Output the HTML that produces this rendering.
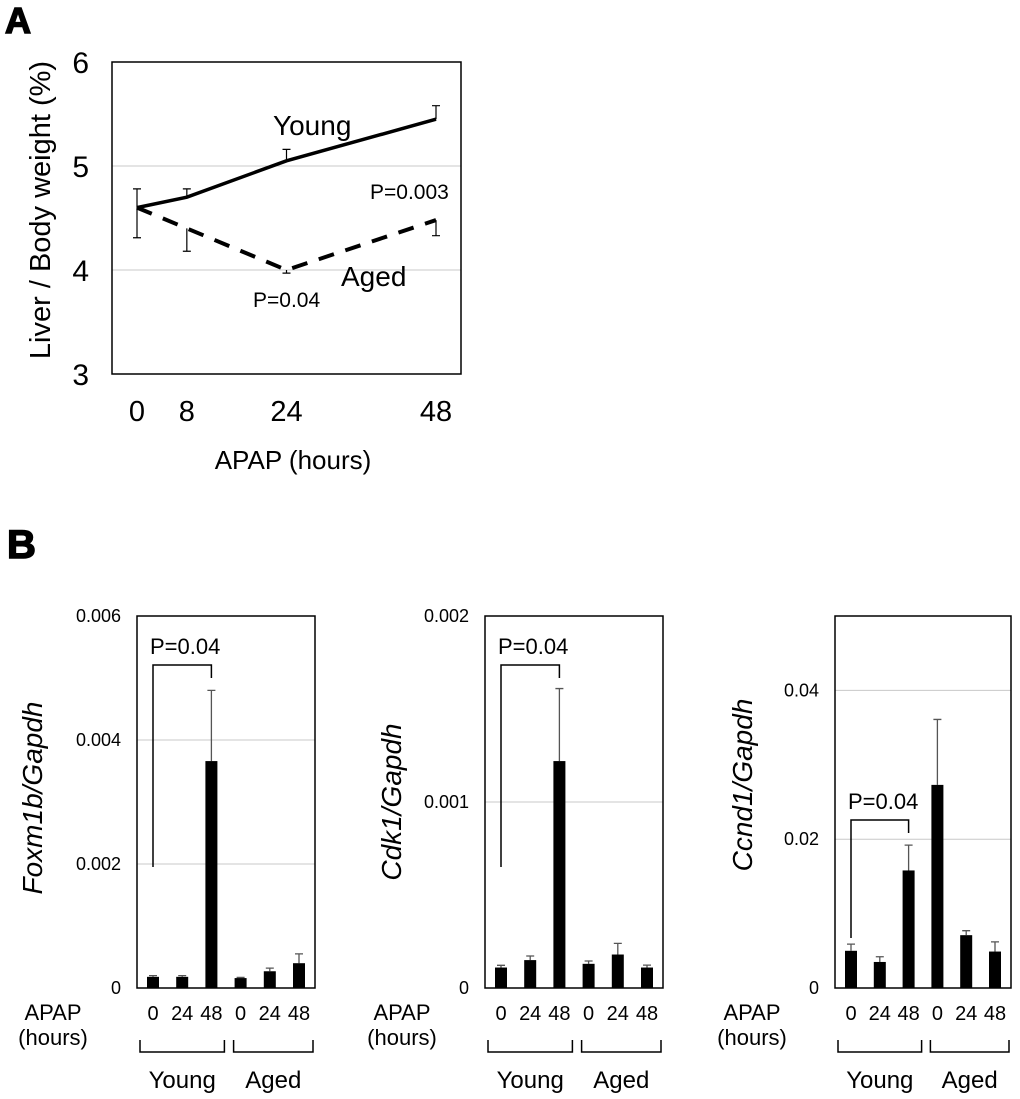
<!DOCTYPE html>
<html><head><meta charset="utf-8">
<style>
html,body{margin:0;padding:0;background:#fff;}
svg{display:block;font-family:"Liberation Sans",Arial,sans-serif;}
</style></head>
<body>
<svg id="fig" width="1020" height="1099" viewBox="0 0 1020 1099" xmlns="http://www.w3.org/2000/svg">
<text x="5" y="33" font-size="36" font-weight="bold" stroke="#000" stroke-width="1.5">A</text>
<text x="7" y="558" font-size="40" font-weight="bold" stroke="#000" stroke-width="1.5">B</text>
<g id="panelA"></g>
<g id="b1"></g>
<g id="b2"></g>
<g id="b3"></g>
</svg>
<script>
// Panel A data
const aHours = [0, 8, 24, 48];
const aYticks = [3, 4, 5, 6];
const youngMean = [4.6, 4.7, 5.05, 5.45];
const youngErr = [0.18, 0.08, 0.11, 0.13];
const agedMean = [4.6, 4.4, 4.0, 4.48];
const agedErr = [0.29, 0.22, 0.03, 0.15];

// Panel B data
const bCats = ['0', '24', '48', '0', '24', '48'];
const foxVals = [0.00018, 0.00018, 0.00366, 0.00016, 0.00027, 0.0004];
const foxErr = [0.00002, 0.00002, 0.00114, 0.00001, 0.00005, 0.00015];
const foxTicks = [0, 0.002, 0.004, 0.006];
const cdkVals = [0.00011, 0.00015, 0.00122, 0.00013, 0.00018, 0.00011];
const cdkErr = [0.000012, 0.000022, 0.00039, 0.000015, 0.00006, 0.000013];
const cdkTicks = [0, 0.001, 0.002];
const ccnVals = [0.005, 0.0035, 0.0158, 0.0273, 0.0071, 0.0049];
const ccnErr = [0.0009, 0.0007, 0.0034, 0.0088, 0.0006, 0.0013];
const ccnTicks = [0, 0.02, 0.04];

const NS = 'http://www.w3.org/2000/svg';
function mk(parent, tag, attrs, text) {
  const e = document.createElementNS(NS, tag);
  for (const k in attrs) e.setAttribute(k, attrs[k]);
  if (text !== undefined) e.textContent = text;
  parent.appendChild(e);
  return e;
}

// ---------- Panel A ----------
(function(){
  const g = document.getElementById('panelA');
  const L=112,R=461,T=62,B=374;
  const x = h => 137 + h*(436-137)/48;
  const y = v => B - (v-3)*(B-T)/3;
  aYticks.forEach(t=>{
    if (t>3 && t<6) {
      const gl = mk(g,'line',{x1:L,x2:R,y1:y(t),y2:y(t),stroke:'#c8c8c8','stroke-width':1});
      
      
    }
    const tl = mk(g,'text',{x:89,y:y(t)+11,'font-size':30,'text-anchor':'end'},String(t));
    
    
  });
  const box = mk(g,'rect',{x:L,y:T,width:R-L,height:B-T,fill:'none',stroke:'#000','stroke-width':1.5});
  
  
  aHours.forEach(h=>{
    const tl = mk(g,'text',{x:x(h),y:421,'font-size':29,'text-anchor':'middle'},String(h));
    
    
  });
  const xt = mk(g,'text',{x:293,y:469,'font-size':26,'text-anchor':'middle'},'APAP (hours)');
  
  
  const yt = mk(g,'text',{x:0,y:0,'font-size':29,'text-anchor':'middle',transform:'translate(50,210) rotate(-90)'},'Liver / Body weight (%)');
  
  
  aHours.forEach((h,i)=>{
    const yu = youngMean[i]+youngErr[i];
    const e1 = mk(g,'path',{d:`M${x(h)} ${y(youngMean[i])}V${y(yu)}M${x(h)-4} ${y(yu)}H${x(h)+4}`,stroke:'#000','stroke-width':1.2,fill:'none'});
    
    
    const yd = agedMean[i]-agedErr[i];
    const e2 = mk(g,'path',{d:`M${x(h)} ${y(agedMean[i])}V${y(yd)}M${x(h)-4} ${y(yd)}H${x(h)+4}`,stroke:'#000','stroke-width':1.2,fill:'none'});
    
    
  });
  const yp = aHours.map((h,i)=>`${x(h)},${y(youngMean[i])}`).join(' ');
  const l1 = mk(g,'polyline',{points:yp,fill:'none',stroke:'#000','stroke-width':3.5});
  
  
  const ap = aHours.map((h,i)=>`${x(h)},${y(agedMean[i])}`).join(' ');
  const l2 = mk(g,'polyline',{points:ap,fill:'none',stroke:'#000','stroke-width':4,'stroke-dasharray':'16,12'});
  
  
  const t1 = mk(g,'text',{x:273,y:135,'font-size':28},'Young');
  
  
  const t2 = mk(g,'text',{x:341,y:286,'font-size':28},'Aged');
  
  
  const p1 = mk(g,'text',{x:370,y:199,'font-size':21},'P=0.003');
  
  
  const p2 = mk(g,'text',{x:253,y:307,'font-size':21},'P=0.04');
  
  
})();

// ---------- Panel B ----------
function barChart(id, vals, errs, ticks, maxV, o) {
  const g = document.getElementById(id);
  const T=616,B=988;
  const y = v => B - v*(B-T)/maxV;
  const x = i => o.L + 16 + i*(o.R-o.L-32)/5;
  ticks.forEach(t=>{
    if (t>0 && t<maxV) {
      const gl = mk(g,'line',{x1:o.L,x2:o.R,y1:y(t),y2:y(t),stroke:'#c8c8c8','stroke-width':1});
      
      
    }
    const tl = mk(g,'text',{x:o.tickX,y:y(t)+6,'font-size':18,'text-anchor':'end'},String(t));
    
    
  });
  const box = mk(g,'rect',{x:o.L,y:T,width:o.R-o.L,height:B-T,fill:'none',stroke:'#000','stroke-width':1.5});
  
  
  vals.forEach((v,i)=>{
    const top = v+errs[i];
    const eb = mk(g,'path',{d:`M${x(i)} ${y(v)}V${y(top)}M${x(i)-4} ${y(top)}H${x(i)+4}`,stroke:'#555','stroke-width':1.3,fill:'none'});
    
    
    const r = mk(g,'rect',{x:x(i)-6,y:y(v),width:12,height:B-y(v),fill:'#000'});
    
    
    const tl = mk(g,'text',{x:x(i),y:1020,'font-size':20,'text-anchor':'middle'},bCats[i]);
    
    
  });
  const yt = mk(g,'text',{x:0,y:0,'font-size':28,'font-style':'italic','text-anchor':'middle',transform:`translate(${o.titleX},${o.titleY}) rotate(-90)`},o.title);
  
  
  const a1 = mk(g,'text',{x:o.apapX,y:1020,'font-size':22,'text-anchor':'middle'},'APAP');
  
  
  const a2 = mk(g,'text',{x:o.apapX,y:1045,'font-size':22,'text-anchor':'middle'},'(hours)');
  
  
  const gx = [[x(0)-13,x(2)+13],[x(3)-7,x(5)+14]];
  ['Young','Aged'].forEach((n,k)=>{
    const br = mk(g,'path',{d:`M${gx[k][0]} 1040V1052H${gx[k][1]}V1040`,stroke:'#000','stroke-width':1.5,fill:'none'});
    
    
    const gl = mk(g,'text',{x:(gx[k][0]+gx[k][1])/2,y:1088,'font-size':24,'text-anchor':'middle'},n);
    
    
  });
  const sig = mk(g,'path',{d:`M${x(0)} ${o.sigBot}V${o.sigTop}H${x(2)}V${o.sigTop+13}`,stroke:'#000','stroke-width':1.5,fill:'none'});
  
  
  const pt = mk(g,'text',{x:x(0)-3,y:o.sigTop-11,'font-size':22},'P=0.04');
  
  
}
barChart('b1', foxVals, foxErr, foxTicks, 0.006, {L:137,R:315,tickX:121,title:'Foxm1b/Gapdh',titleX:42,titleY:798,apapX:53,sigTop:665,sigBot:867});
barChart('b2', cdkVals, cdkErr, cdkTicks, 0.002, {L:485,R:663,tickX:469,title:'Cdk1/Gapdh',titleX:401,titleY:802,apapX:402,sigTop:665,sigBot:867});
barChart('b3', ccnVals, ccnErr, ccnTicks, 0.05, {L:835,R:1011,tickX:819,title:'Ccnd1/Gapdh',titleX:752,titleY:785,apapX:752,sigTop:820,sigBot:938});
</script>
</body></html>
